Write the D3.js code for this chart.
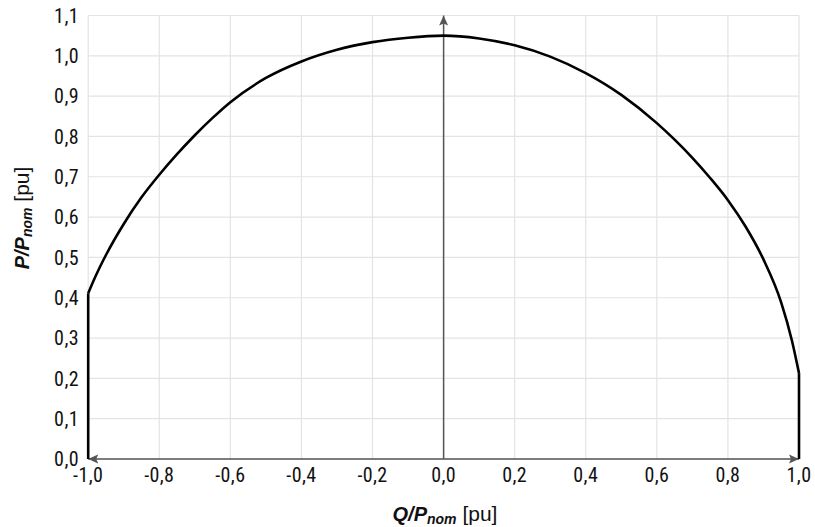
<!DOCTYPE html>
<html>
<head>
<meta charset="utf-8">
<script src="https://cdn.jsdelivr.net/npm/d3@7"></script>
<style>
  body { margin: 0; background: #fff; }
  text { font-family: "Liberation Sans Narrow", "Roboto Condensed", "DejaVu Sans Condensed", sans-serif; fill: #111; }
  .title { font-family: "Liberation Sans", Arial, sans-serif; }
</style>
</head>
<body>
<div id="viz"></div>
<script>
// Capability curve (vertical ends at Q = -1 and Q = 1)
const qValues = [-1.0, -1.0, -0.98, -0.95, -0.9, -0.85, -0.8, -0.75, -0.7, -0.65, -0.6, -0.5, -0.4, -0.3, -0.2, -0.1, 0.0,
                 0.1, 0.2, 0.3, 0.4, 0.5, 0.6, 0.65, 0.7, 0.75, 0.8, 0.85, 0.9, 0.95, 0.98, 1.0, 1.0];
const pValues = [0.0, 0.411, 0.452, 0.506, 0.583, 0.649, 0.705, 0.756, 0.803, 0.846, 0.885, 0.945, 0.986, 1.015, 1.034, 1.045, 1.05,
                 1.043, 1.026, 0.998, 0.957, 0.903, 0.833, 0.792, 0.747, 0.697, 0.642, 0.576, 0.495, 0.388, 0.294, 0.213, 0.0];

const xTicks = [-1.0, -0.8, -0.6, -0.4, -0.2, 0.0, 0.2, 0.4, 0.6, 0.8, 1.0];
const yTicks = [0.0, 0.1, 0.2, 0.3, 0.4, 0.5, 0.6, 0.7, 0.8, 0.9, 1.0, 1.1];

const width = 815, height = 527;
const fmt = d => d3.format(".1f")(d).replace("−", "-").replace(".", ",");

const svg = d3.select("#viz").append("svg")
    .attr("width", width)
    .attr("height", height);

const x = d3.scaleLinear().domain([-1, 1]).range([88.2, 799]);
const y = d3.scaleLinear().domain([0, 1.1]).range([459, 15.5]);

// arrow marker
const defs = svg.append("defs");
defs.append("marker")
    .attr("id", "arrow")
    .attr("viewBox", "0 0 10 10")
    .attr("refX", 10).attr("refY", 5)
    .attr("markerWidth", 10).attr("markerHeight", 10)
    .attr("markerUnits", "userSpaceOnUse")
    .attr("orient", "auto-start-reverse")
    .append("path")
    .attr("d", "M0,0.5 L10,5 L0,9.5 L2,5 Z")
    .attr("fill", "#555");

// grid
svg.append("g")
    .selectAll("line")
    .data(xTicks)
    .enter()
    .append("line")
    .attr("x1", d => x(d)).attr("x2", d => x(d))
    .attr("y1", y(0)).attr("y2", y(1.1))
    .attr("stroke", "#e3e3e3")
    .attr("stroke-width", 1.2);

svg.append("g")
    .selectAll("line")
    .data(yTicks)
    .enter()
    .append("line")
    .attr("x1", x(-1)).attr("x2", x(1))
    .attr("y1", d => y(d)).attr("y2", d => y(d))
    .attr("stroke", "#e3e3e3")
    .attr("stroke-width", 1.2);

// tick labels
svg.append("g")
    .selectAll("text")
    .data(xTicks)
    .enter()
    .append("text")
    .attr("x", d => x(d))
    .attr("y", 482)
    .attr("text-anchor", "middle")
    .style("font-size", "20px")
    .style("letter-spacing", "0.4px")
    .text(fmt);

svg.append("g")
    .selectAll("text")
    .data(yTicks)
    .enter()
    .append("text")
    .attr("x", 79)
    .attr("y", d => y(d))
    .attr("dy", "0.36em")
    .attr("text-anchor", "end")
    .style("font-size", "20px")
    .style("letter-spacing", "0.4px")
    .text(fmt);

// axes with arrows
svg.append("line")
    .attr("x1", x(-1)).attr("x2", x(1))
    .attr("y1", y(0)).attr("y2", y(0))
    .attr("stroke", "#555")
    .attr("stroke-width", 1.5)
    .attr("marker-start", "url(#arrow)")
    .attr("marker-end", "url(#arrow)");

svg.append("line")
    .attr("x1", x(0)).attr("x2", x(0))
    .attr("y1", y(0)).attr("y2", y(1.1))
    .attr("stroke", "#555")
    .attr("stroke-width", 1.5)
    .attr("marker-end", "url(#arrow)");

// curve: vertical ends straight, arc smooth
const pts = qValues.map((q, i) => [q, pValues[i]]);
const n = pts.length;
const straight = d3.line().x(d => x(d[0])).y(d => y(d[1]));
const smooth = d3.line().x(d => x(d[0])).y(d => y(d[1])).curve(d3.curveMonotoneX);

[pts.slice(0, 2), pts.slice(n - 2)].forEach(seg => {
    svg.append("path")
        .attr("d", straight(seg))
        .attr("fill", "none")
        .attr("stroke", "#000")
        .attr("stroke-width", 2.6);
});

svg.append("path")
    .attr("d", smooth(pts.slice(1, n - 1)))
    .attr("fill", "none")
    .attr("stroke", "#000")
    .attr("stroke-width", 2.6)
    .attr("stroke-linejoin", "round");

// axis titles
const xt = svg.append("text")
    .attr("class", "title")
    .attr("x", 445)
    .attr("y", 521)
    .attr("text-anchor", "middle")
    .style("font-size", "20px");
xt.append("tspan").style("font-weight", "bold").style("font-style", "italic").text("Q/P");
xt.append("tspan").attr("dy", 3).style("font-weight", "bold").style("font-style", "italic").style("font-size", "14px").text("nom");
xt.append("tspan").attr("dy", -3).style("font-family", "'Liberation Sans Narrow', sans-serif").style("font-size", "21px").text(" [pu]");

const yt = svg.append("text")
    .attr("class", "title")
    .attr("transform", "translate(29,218) rotate(-90)")
    .attr("text-anchor", "middle")
    .style("font-size", "20px");
yt.append("tspan").style("font-weight", "bold").style("font-style", "italic").text("P/P");
yt.append("tspan").attr("dy", 3).style("font-weight", "bold").style("font-style", "italic").style("font-size", "14px").text("nom");
yt.append("tspan").attr("dy", -3).style("font-family", "'Liberation Sans Narrow', sans-serif").style("font-size", "21px").text(" [pu]");
</script>
</body>
</html>
